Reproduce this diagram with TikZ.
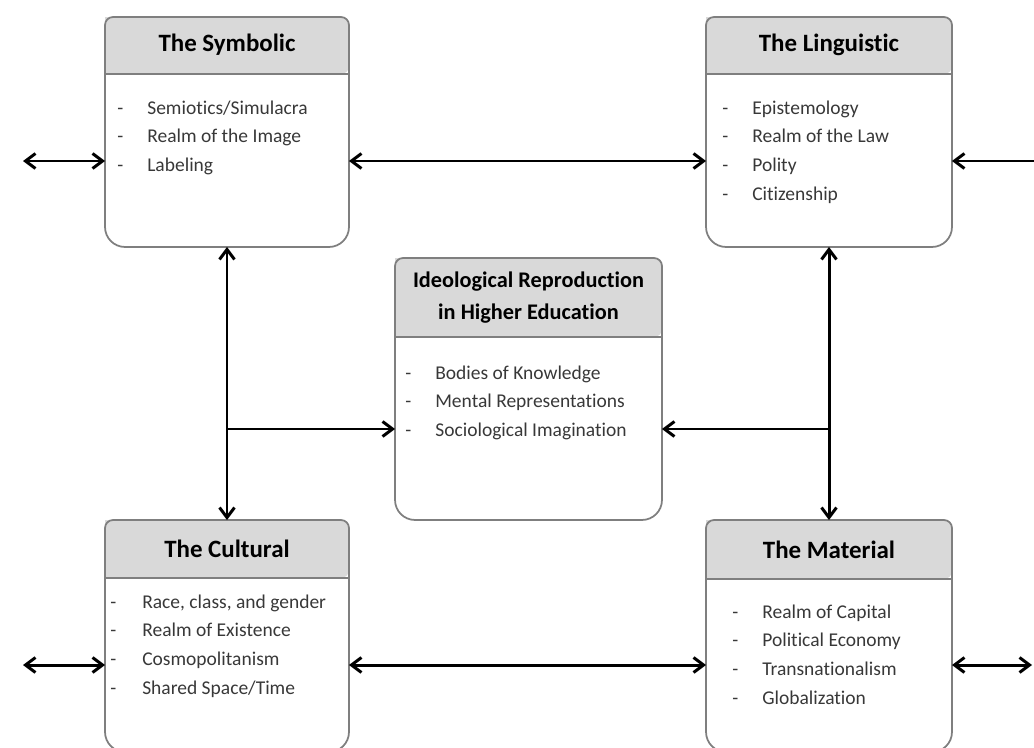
\documentclass[tikz,border=0pt]{standalone}
\usepackage{fontspec}
\setmainfont{Carlito}[Ligatures=NoCommon]
\usetikzlibrary{arrows.meta,calc}
\definecolor{headgray}{HTML}{D9D9D9}
\definecolor{edgegray}{HTML}{7F7F7F}
\definecolor{itemgray}{HTML}{383838}
\tikzset{
  boxnode/.style={rectangle, inner sep=0pt, outer sep=0pt},
  boxline/.style={draw=edgegray, line width=1pt},
  boxtitle/.style={font=\fontsize{14.2}{17}\selectfont\bfseries},
  boxitems/.style={anchor=base west, inner sep=0pt, text=itemgray, font=\fontsize{11.1}{16.5}\selectfont},
  link/.style={line width=1.7pt},
  >={Straight Barb[length=0.2cm,width=0.3cm]}
}
\begin{document}
\begin{tikzpicture}[x=0.02cm, y=-0.02cm]
  \useasboundingbox (0,0) rectangle (1034,747);
  \clip (0,0) rectangle (1034,747);
  % the five boxes
  \node[boxnode, minimum width=4.88cm, minimum height=4.6cm] (sym) at (227,132) {};
  \node[boxnode, minimum width=4.92cm, minimum height=4.6cm] (lin) at (829,132) {};
  \node[boxnode, minimum width=5.34cm, minimum height=5.24cm] (ide) at (528.5,389) {};
  \node[boxnode, minimum width=4.88cm, minimum height=4.64cm] (cul) at (227,636) {};
  \node[boxnode, minimum width=4.92cm, minimum height=4.64cm] (mat) at (829,636) {};
  \foreach \n/\hh in {sym/57, lin/57, ide/79, cul/58, mat/59}{
    \fill[headgray] ($(\n.north west)+(0,\hh)$) -- (\n.north west) [rounded corners=0.16cm] -- (\n.north east) -- ($(\n.north east)+(0,\hh)$) [sharp corners] -- cycle;
    \draw[boxline] (\n.west) [rounded corners=0.16cm] -- (\n.north west) -- (\n.north east) -- (\n.east) [rounded corners=0.4cm] -- (\n.south east) -- (\n.south west) -- cycle;
    \draw[boxline] ($(\n.north west)+(0,\hh)$) -- ($(\n.north east)+(0,\hh)$);
  }
  % titles
  \node[boxtitle] (symt) at (227,45) {The Symbolic};
  \node[boxtitle] (lint) at (829,45) {The Linguistic};
  \node[boxtitle, align=center, font=\fontsize{12.7}{18.2}\selectfont\bfseries] (idet) at (528.5,298) {Ideological Reproduction\\in Higher Education};
  \node[boxtitle] (cult) at (227,549) {The Cultural};
  \node[boxtitle] (matt) at (829,549.5) {The Material};
  % items
  \node[boxitems] (symi) at (117,114) {\begin{tabular}[t]{@{}l@{\hspace{0.48cm}}l@{}}
    - & Semiotics/Simulacra\\ - & Realm of the Image\\ - & Labeling\end{tabular}};
  \node[boxitems] (lini) at (722,114) {\begin{tabular}[t]{@{}l@{\hspace{0.48cm}}l@{}}
    - & Epistemology\\ - & Realm of the Law\\ - & Polity\\ - & Citizenship\end{tabular}};
  \node[boxitems] (idei) at (405,379) {\begin{tabular}[t]{@{}l@{\hspace{0.48cm}}l@{}}
    - & Bodies of Knowledge\\ - & Mental Representations\\ - & Sociological Imagination\end{tabular}};
  \node[boxitems] (culi) at (110,608) {\begin{tabular}[t]{@{}l@{\hspace{0.52cm}}l@{}}
    - & Race, class, and gender\\ - & Realm of Existence\\ - & Cosmopolitanism\\ - & Shared Space/Time\end{tabular}};
  \node[boxitems] (mati) at (732,618) {\begin{tabular}[t]{@{}l@{\hspace{0.48cm}}l@{}}
    - & Realm of Capital\\ - & Political Economy\\ - & Transnationalism\\ - & Globalization\end{tabular}};
  % connectors
  \coordinate (toprow) at (0,161);
  \coordinate (midrow) at (0,429);
  \coordinate (botrow) at (0,665);
  \coordinate (lfttop) at (23,161);
  \coordinate (rgttop) at (1034,161);
  \coordinate (lftbot) at (23,665);
  \coordinate (rgtbot) at (1032,665);
  \draw[link, <->] (lfttop) -- (sym.west |- toprow);
  \draw[link, <->] (sym.east |- toprow) -- (lin.west |- toprow);
  \draw[link, <-] (lin.east |- toprow) -- (rgttop);
  \draw[link, <->] (lftbot) -- (cul.west |- botrow);
  \draw[link, <->] (cul.east |- botrow) -- (mat.west |- botrow);
  \draw[link, <->] (mat.east |- botrow) -- (rgtbot);
  \draw[link, <->] (sym.south) -- (cul.north);
  \draw[link, <->] (lin.south) -- (mat.north);
  \draw[link, ->] (sym.south |- midrow) -- (ide.west |- midrow);
  \draw[link, ->] (lin.south |- midrow) -- (ide.east |- midrow);
\end{tikzpicture}
\end{document}
